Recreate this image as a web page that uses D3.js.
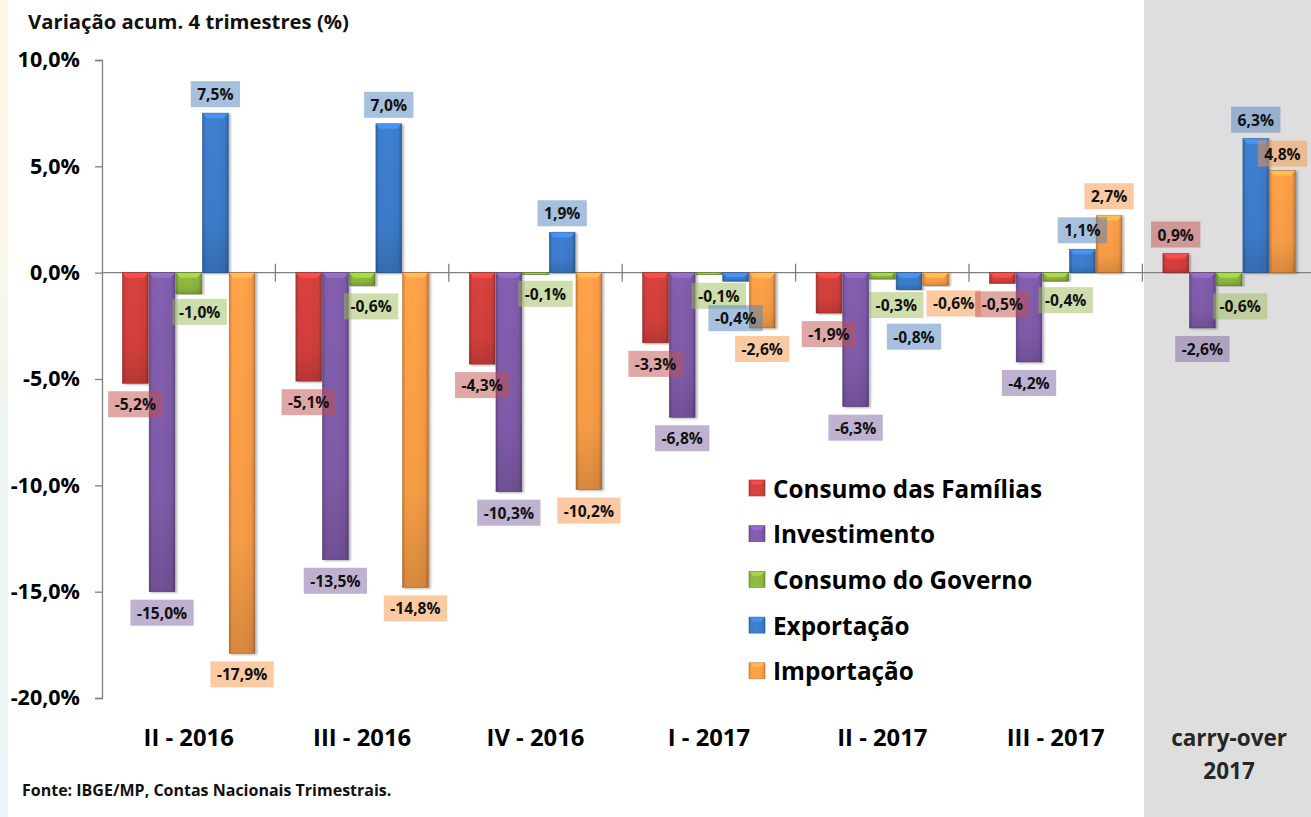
<!DOCTYPE html>
<html><head><meta charset="utf-8">
<script src="https://cdn.jsdelivr.net/npm/d3@7"></script>
<style>
html,body{margin:0;padding:0;background:#fff;}
svg{display:block;font-family:"Open Sans","Noto Sans",sans-serif;}
</style></head>
<body>
<svg id="chart" width="1311" height="817"></svg>
<script>
// ---- data ----
const categories = ["II - 2016","III - 2016","IV - 2016","I - 2017","II - 2017","III - 2017","carry-over 2017"];
const series = ["Consumo das Famílias","Investimento","Consumo do Governo","Exportação","Importação"];
const consumoFamilias = [-5.2,-5.1,-4.3,-3.3,-1.9,-0.5,0.9];
const investimento    = [-15.0,-13.5,-10.3,-6.8,-6.3,-4.2,-2.6];
const consumoGoverno  = [-1.0,-0.6,-0.1,-0.1,-0.3,-0.4,-0.6];
const exportacao      = [7.5,7.0,1.9,-0.4,-0.8,1.1,6.3];
const importacao      = [-17.9,-14.8,-10.2,-2.6,-0.6,2.7,4.8];
const yTicks = [-20,-15,-10,-5,0,5,10];
const title = "Variação acum. 4 trimestres (%)";
const source = "Fonte: IBGE/MP, Contas Nacionais Trimestrais.";

const values = [consumoFamilias, investimento, consumoGoverno, exportacao, importacao];

// ---- styles ----
const FONT = "'Open Sans','Noto Sans',sans-serif";
const colors = ["#CF3F3B","#7D5AA8","#8AB33D","#3B7AC7","#F89B45"];
const boxColors = ["#C0504D","#8064A2","#9BBB59","#4F81BD","#F79646"];
// label nudges for crowded small bars: [seriesIndex, categoryIndex, dx, dy]
const nudges = [[2,0,11,-3],[2,1,9,0],[2,2,10,-2],[2,3,10,0],[3,3,0,16],[2,4,14,5],[3,4,5,26],[4,4,18,-3],[2,5,10,-2],[2,6,11,0],[4,6,0,2]];

const svg = d3.select("#chart");
const W = 1311, H = 817;

const defs = svg.append("defs");
// left edge tint
const lg = defs.append("linearGradient").attr("id","edge").attr("x1",0).attr("y1",0).attr("x2",0).attr("y2",1);
lg.append("stop").attr("offset","0").attr("stop-color","#FBF7E6");
lg.append("stop").attr("offset","0.3").attr("stop-color","#FBF8EA");
lg.append("stop").attr("offset","0.5").attr("stop-color","#EEF4EE");
lg.append("stop").attr("offset","1").attr("stop-color","#EEF4F8");
svg.append("rect").attr("x",0).attr("y",0).attr("width",8).attr("height",H).attr("fill","url(#edge)");

colors.forEach((c,i)=>{
  const g = defs.append("linearGradient").attr("id","bar"+i).attr("x1",0).attr("y1",0).attr("x2",1).attr("y2",0);
  const col = d3.color(c);
  g.append("stop").attr("offset","0").attr("stop-color",col.darker(0.5));
  g.append("stop").attr("offset","0.12").attr("stop-color",col.brighter(0.1));
  g.append("stop").attr("offset","0.5").attr("stop-color",col.brighter(0.15));
  g.append("stop").attr("offset","0.88").attr("stop-color",col);
  g.append("stop").attr("offset","1").attr("stop-color",col.darker(0.7));
  const gv = defs.append("linearGradient").attr("id","shade"+i).attr("x1",0).attr("y1",0).attr("x2",0).attr("y2",1);
  gv.append("stop").attr("offset","0").attr("stop-color","#000").attr("stop-opacity",0);
  gv.append("stop").attr("offset","0.7").attr("stop-color","#000").attr("stop-opacity",0.04);
  gv.append("stop").attr("offset","1").attr("stop-color","#000").attr("stop-opacity",0.16);
});
const sh = defs.append("filter").attr("id","shadow").attr("x","-20%").attr("y","-5%").attr("width","140%").attr("height","110%");
sh.append("feDropShadow").attr("dx",2).attr("dy",1).attr("stdDeviation",1.2).attr("flood-color","#000").attr("flood-opacity",0.3);

// ---- scales ----
const x0 = d3.scaleBand().domain(categories).range([102, 102 + 173.4*7]);
const x1 = d3.scaleBand().domain(series).range([20, 153.4]);
const y = d3.scaleLinear().domain([-20,10]).range([698, 60]);

// carry-over background
svg.append("rect").attr("x", x0(categories[6]) + 1.6).attr("y",0)
  .attr("width", W - x0(categories[6])).attr("height",H).attr("fill","#DEDEDE");

// title
svg.append("text").attr("x",28).attr("y",29).attr("font-size",20.3).attr("font-weight","bold")
  .attr("fill","#111").text(title);

// y axis
const yAxis = d3.axisLeft(y).tickValues(yTicks).tickSize(7).tickPadding(15)
  .tickFormat(d => d.toFixed(1).replace(".",",") + "%");
const ya = svg.append("g").attr("transform","translate(102,0)").call(yAxis);
ya.select(".domain").attr("stroke","#808080").attr("stroke-width",1.3);
ya.selectAll(".tick line").attr("stroke","#808080").attr("stroke-width",1.3);
ya.selectAll(".tick text").attr("font-size",21.5).attr("font-weight","bold").attr("fill","#000")
  .attr("font-family",FONT);

// x axis (zero line with crossing ticks)
svg.append("line").attr("x1",102).attr("x2",W).attr("y1",y(0)).attr("y2",y(0))
  .attr("stroke","#808080").attr("stroke-width",1.3);
svg.selectAll("line.xtick").data(categories.slice(1)).enter().append("line")
  .attr("class","xtick")
  .attr("x1",d=>x0(d)).attr("x2",d=>x0(d))
  .attr("y1",y(0)-9).attr("y2",y(0)+9)
  .attr("stroke","#808080").attr("stroke-width",1.3);

// bars
const flat = [];
categories.forEach((c,ci)=>series.forEach((s,si)=>flat.push({c,ci,s,si,v:values[si][ci]})));

const bars = svg.append("g");
flat.forEach(d=>{
  const bx = x0(d.c) + x1(d.s);
  const bw = x1.bandwidth();
  const top = Math.min(y(d.v), y(0));
  const h = Math.max(1, Math.abs(y(d.v) - y(0)));
  const g = bars.append("g");
  g.append("rect").attr("x",bx+0.5).attr("y",top).attr("width",bw-1).attr("height",h)
    .attr("fill","url(#bar"+d.si+")").attr("filter","url(#shadow)")
    .attr("stroke", d3.color(colors[d.si]).darker(0.9)).attr("stroke-width",0.6);
  g.append("rect").attr("x",bx+0.5).attr("y",top).attr("width",bw-1).attr("height",h)
    .attr("fill","url(#shade"+d.si+")");
  const bev = Math.min(5, h/2);
  const ins = Math.min(4, bw/4);
  g.append("path")
    .attr("d",`M${bx+0.8},${top+0.3} L${bx+bw-0.8},${top+0.3} L${bx+bw-0.8-ins},${top+bev} L${bx+0.8+ins},${top+bev} Z`)
    .attr("fill", d3.color(colors[d.si]).brighter(0.55));
});

// labels
const fmt = v => v.toFixed(1).replace(".",",") + "%";
const lab = svg.append("g");
flat.forEach(d=>{
  const n = nudges.find(k=>k[0]===d.si && k[1]===d.ci);
  let cx = x0(d.c) + x1(d.s) + x1.bandwidth()/2;
  let cy = d.v < 0 ? y(d.v) + 21 : y(d.v) - 19;
  if (n){ cx += n[2]; cy += n[3]; }
  const g = lab.append("g");
  const t = g.append("text").attr("x",cx).attr("y",cy).attr("text-anchor","middle")
    .attr("dominant-baseline","central").attr("font-size",15.6).attr("font-weight","bold")
    .attr("fill","#111").text(fmt(d.v));
  const bb = t.node().getBBox();
  g.insert("rect","text").attr("x",cx - bb.width/2 - 6.5).attr("y",cy - 13)
    .attr("width",bb.width + 13).attr("height",26)
    .attr("fill",boxColors[d.si]).attr("fill-opacity",0.5);
});

// category labels
svg.selectAll("text.cat").data(categories).enter().append("text")
  .attr("class","cat")
  .attr("x",d=>x0(d)+x0.bandwidth()/2)
  .attr("y",746)
  .attr("text-anchor","middle").attr("font-weight","bold")
  .attr("font-size",(d,i)=> i===6 ? 22.5 : 23.8)
  .attr("fill",(d,i)=> i===6 ? "#262626" : "#000")
  .each(function(d,i){
    const el = d3.select(this);
    if (i===6){
      el.append("tspan").attr("x",x0(d)+x0.bandwidth()/2).text("carry-over");
      el.append("tspan").attr("x",x0(d)+x0.bandwidth()/2).attr("dy",33).text("2017");
    } else el.text(d);
  });

// legend
const lgd = svg.append("g").attr("transform","translate(749,488)");
series.forEach((s,i)=>{
  const g = lgd.append("g").attr("transform",`translate(0,${i*45.7})`);
  g.append("rect").attr("x",0).attr("y",-8).attr("width",16).attr("height",16)
    .attr("fill","url(#bar"+i+")").attr("stroke",d3.color(colors[i]).darker(0.8)).attr("stroke-width",0.6);
  g.append("path").attr("d","M0.5,-7.5 L15.5,-7.5 L11.5,-3.5 L4.5,-3.5 Z").attr("fill",d3.color(colors[i]).brighter(0.5));
  g.append("text").attr("x",24).attr("y",0).attr("dominant-baseline","central")
    .attr("font-size",24.3).attr("font-weight","bold").attr("fill","#000").text(s);
});

// source
svg.append("text").attr("x",22).attr("y",796).attr("font-size",16).attr("font-weight","bold")
  .attr("fill","#111").text(source);
</script>
</body></html>
